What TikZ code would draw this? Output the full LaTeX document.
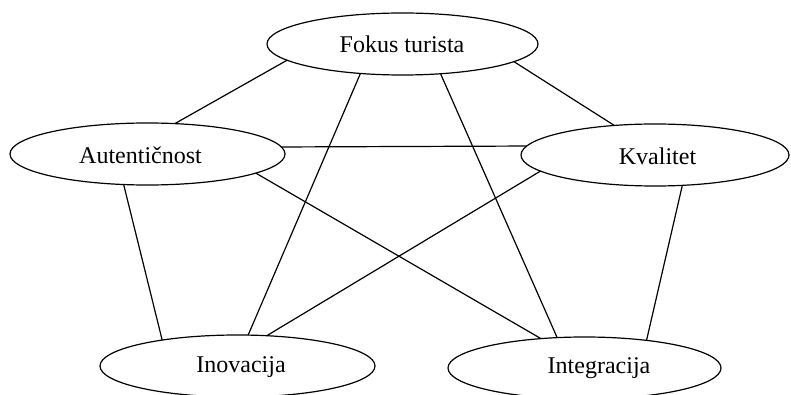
\documentclass[tikz,border=0pt]{standalone}
\usepackage{fontspec}
\setmainfont{Liberation Serif}
\usetikzlibrary{shapes.geometric}
\begin{document}
\begin{tikzpicture}[x=1pt,y=-1pt,
  oval/.style={draw=black, line width=1.2pt, ellipse, inner sep=0pt, outer sep=0pt,
    minimum width=#1, minimum height=62pt},
  lbl/.style={font=\fontsize{24}{28}\selectfont, inner sep=0pt},
  link/.style={draw=black, line width=1.2pt}]
\useasboundingbox (0,0) rectangle (791,395);
\node[oval=271pt] (fok) at (402.5,44) {};
\node[lbl] (tfok) at (402,44) {Fokus turista};
\node[oval=275pt] (aut) at (147.5,154) {};
\node[lbl] (taut) at (140.5,155) {Autentičnost};
\node[oval=268pt] (kva) at (655,155) {};
\node[lbl] (tkva) at (657.5,156) {Kvalitet};
\node[oval=275pt] (ino) at (237.5,366) {};
\node[lbl] (tino) at (241,367) {Inovacija};
\node[oval=273pt] (int) at (584.5,368) {};
\node[lbl] (tint) at (599,368) {Integracija};
\draw[link] (fok.188.4) -- (aut.48.4);
\draw[link] (fok.215.7) -- (ino.71.3);
\draw[link] (fok.351.6) -- (kva.144);
\draw[link] (fok.322.4) -- (int.132.6);
\draw[link] (aut.3.5) -- (kva.176);
\draw[link] (aut.350.2) -- (int.146.3);
\draw[link] (kva.188.1) -- (ino.46.4);
\draw[link] (aut.232.3) -- (ino.161.5);
\draw[link] (kva.312.2) -- (int.24.3);
\end{tikzpicture}
\end{document}
